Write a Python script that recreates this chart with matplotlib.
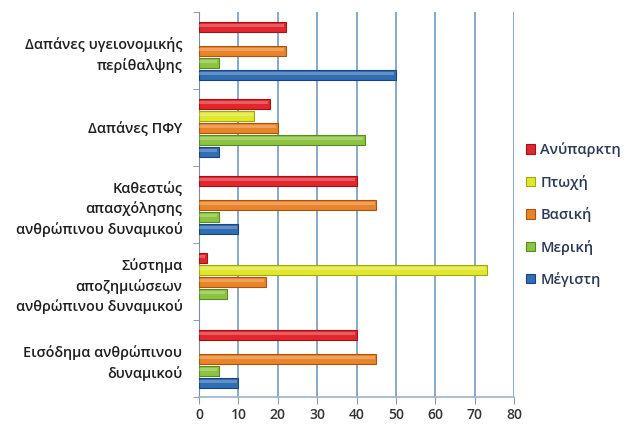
import numpy as np
import matplotlib.pyplot as plt

plt.rcParams['font.family'] = ['Open Sans', 'DejaVu Sans']

categories = [
    'Δαπάνες υγειονομικής\nπερίθαλψης',
    'Δαπάνες ΠΦΥ',
    'Καθεστώς\nαπασχόλησης\nανθρώπινου δυναμικού',
    'Σύστημα\nαποζημιώσεων\nανθρώπινου δυναμικού',
    'Εισόδημα ανθρώπινου\nδυναμικού',
]
series_names = ['Ανύπαρκτη', 'Πτωχή', 'Βασική', 'Μερική', 'Μέγιστη']
anyparkti = [22, 18, 40, 2, 40]
ptoxi = [0, 14, 0, 73, 0]
vasiki = [22, 20, 45, 17, 45]
meriki = [5, 42, 5, 7, 5]
megisti = [50, 5, 10, 0, 10]
x_ticks = [0, 10, 20, 30, 40, 50, 60, 70, 80]

series = [anyparkti, ptoxi, vasiki, meriki, megisti]
colors = ['#e3262e', '#e0e82e', '#ea8428', '#8cc440', '#2f6db4']
edges = ['#9c1418', '#a0a812', '#a85510', '#5a8a22', '#1b4479']

fig = plt.figure(figsize=(6.38, 4.34), dpi=100)
ax = fig.add_axes([0.312, 0.085, 0.494, 0.887])

ypos = np.arange(len(categories))
step = 0.156
height = 0.13
for i, (vals, c, ec, name) in enumerate(zip(series, colors, edges, series_names)):
    vals = np.array(vals, dtype=float)
    y = ypos + (i - 2) * step
    keep = vals > 0
    ax.barh(y[keep], vals[keep], height=height, color=c, edgecolor=ec,
            linewidth=0.8, label=name, zorder=3)
    # light sheen across the upper half of each bar
    ax.barh(y[keep] - height * 0.12, vals[keep] - 0.4, height=height * 0.35,
            color='white', alpha=0.25, linewidth=0, zorder=4)

ax.set_ylim(len(categories) - 0.5, -0.5)
ax.set_xlim(0, 80)
ax.set_xticks(x_ticks)
ax.set_yticks(ypos)
ax.set_yticklabels(categories, fontsize=10.4, linespacing=1.5,
                   fontweight='semibold')
ax.set_yticks(np.arange(len(categories) + 1) - 0.5, minor=True)
ax.tick_params(axis='y', which='major', length=0, pad=12, colors='#1f1f1f')
ax.tick_params(axis='y', which='minor', length=4, color='#7f8c99')
ax.tick_params(axis='x', length=5, color='#7f9fbd', labelsize=10,
               labelcolor='#333333', pad=3)
for lbl in ax.get_xticklabels():
    lbl.set_fontweight('semibold')

ax.grid(axis='x', color='#86a9c8', linewidth=1.4, zorder=0)
for side in ['top', 'right']:
    ax.spines[side].set_visible(False)
ax.spines['left'].set_color('#7f8c99')
ax.spines['bottom'].set_color('#9cb3c9')
ax.spines['bottom'].set_linewidth(1.2)

leg = ax.legend(loc='center left', bbox_to_anchor=(0.995, 0.474), frameon=False,
                fontsize=10.5, handlelength=0.6, handleheight=0.6,
                handletextpad=0.4, labelspacing=1.2, labelcolor='#2b3a55')
for t in leg.get_texts():
    t.set_fontweight('semibold')

fig.savefig('out.png', dpi=100)
